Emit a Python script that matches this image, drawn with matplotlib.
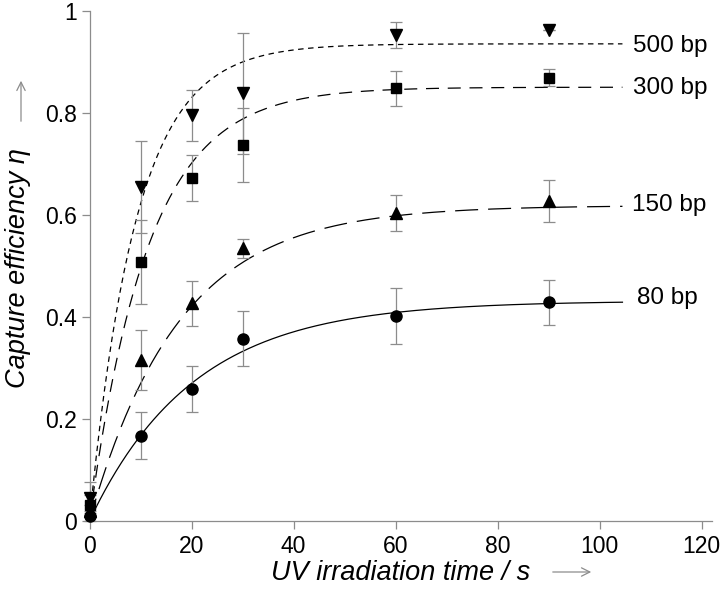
import numpy as np
import matplotlib
matplotlib.use("Agg")
import matplotlib.pyplot as plt

plt.rcParams['font.family'] = ['Liberation Sans', 'DejaVu Sans']

# ---- data ----
times = [0, 10, 20, 30, 60, 90]
labels = ["80 bp", "150 bp", "300 bp", "500 bp"]
eff_80 = [0.01, 0.167, 0.258, 0.357, 0.402, 0.428]
err_80 = [0.01, 0.046, 0.045, 0.054, 0.055, 0.044]
eff_150 = [0.02, 0.315, 0.426, 0.534, 0.603, 0.627]
err_150 = [0.01, 0.058, 0.044, 0.019, 0.035, 0.041]
eff_300 = [0.03, 0.507, 0.672, 0.737, 0.848, 0.869]
err_300 = [0.02, 0.083, 0.045, 0.073, 0.034, 0.017]
eff_500 = [0.045, 0.654, 0.795, 0.838, 0.952, 0.963]
err_500 = [0.03, 0.09, 0.05, 0.118, 0.025, 0.0]
# fitted curves: eta = plateau * (1 - exp(-rate * t))
fit_plateau = [0.431, 0.618, 0.85, 0.935]
fit_rate = [0.049, 0.057, 0.087, 0.109]
fit_tmax = 104.5
xticks = [0, 20, 40, 60, 80, 100, 120]
yticks = [0, 0.2, 0.4, 0.6, 0.8, 1.0]
yticklabels = ["0", "0.2", "0.4", "0.6", "0.8", "1"]

effs = [eff_80, eff_150, eff_300, eff_500]
errs = [err_80, err_150, err_300, err_500]
markers = ['o', '^', 's', 'v']
msizes = [8, 8, 7.5, 8]
dashes = [None, (18.4, 8.0), (10.4, 7.0), (4.4, 3.6)]
label_pos = [(637, 298), (632, 205), (633, 88), (633, 46)]

W, H = 728, 590
fig = plt.figure(figsize=(W / 100, H / 100), dpi=100)
x0, x1 = 89.5, 711.7
y0, y1 = 520.7, 10.7
ax = fig.add_axes([x0 / W, 1 - y0 / H, (x1 - x0) / W, (y0 - y1) / H])
ax.set_xlim(0, 122)
ax.set_ylim(0, 1)

gray = '#8c8c8c'
tt = np.linspace(0, fit_tmax, 400)
for i in range(4):
    yy = fit_plateau[i] * (1 - np.exp(-fit_rate[i] * tt))
    line, = ax.plot(tt, yy, color='black', lw=0.9)
    if dashes[i] is not None:
        line.set_dashes(dashes[i])
    ax.errorbar(times, effs[i], yerr=errs[i], fmt='none', ecolor=gray,
                elinewidth=0.9, capsize=4.5, capthick=0.9, clip_on=False, zorder=3)
    ax.plot(times, effs[i], linestyle='none', marker=markers[i], ms=msizes[i],
            color='black', clip_on=False, zorder=4)
    px, py = label_pos[i]
    fig.text(px / W, 1 - py / H, labels[i], fontsize=17.5, va='center', ha='left')

for s in ['top', 'right']:
    ax.spines[s].set_visible(False)
for s in ['left', 'bottom']:
    ax.spines[s].set_color(gray)
    ax.spines[s].set_linewidth(0.9)

ax.set_xticks(xticks)
ax.set_xticklabels([str(v) for v in xticks])
ax.set_yticks(yticks)
ax.set_yticklabels(yticklabels)
ax.tick_params(direction='out', length=6, width=0.9, color=gray, labelsize=16.5,
               labelcolor='black')
ax.tick_params(axis='x', pad=4)
ax.tick_params(axis='y', pad=3)

fig.text(401 / W, 1 - 573 / H, "UV irradiation time / s", fontsize=19.5,
         style='italic', ha='center', va='center')
fig.text(18 / W, 1 - 268 / H, "Capture efficiency η", fontsize=19.5,
         style='italic', ha='center', va='center', rotation=90)

fig.add_artist(matplotlib.patches.FancyArrowPatch(
    (550 / W, 1 - 572 / H), (594 / W, 1 - 572 / H), transform=fig.transFigure,
    arrowstyle='->,head_length=6,head_width=3', color=gray, lw=0.9))
fig.add_artist(matplotlib.patches.FancyArrowPatch(
    (21 / W, 1 - 124 / H), (21 / W, 1 - 78 / H), transform=fig.transFigure,
    arrowstyle='->,head_length=6,head_width=3', color=gray, lw=0.9))

fig.savefig("out.png", dpi=100)
